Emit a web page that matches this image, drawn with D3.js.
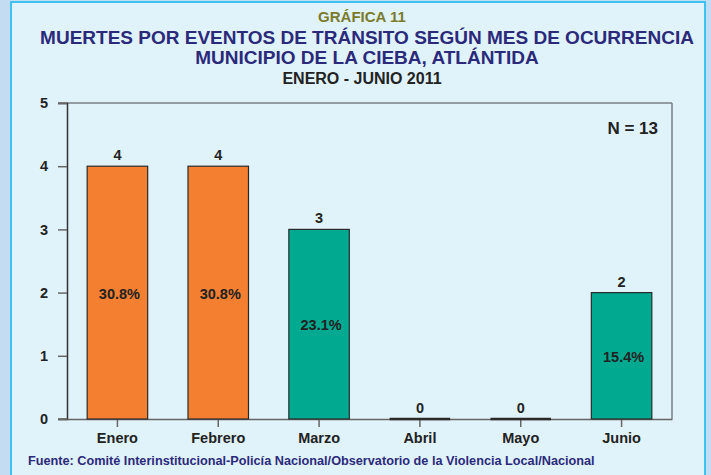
<!DOCTYPE html>
<html>
<head>
<meta charset="utf-8">
<script src="https://cdn.jsdelivr.net/npm/d3@7"></script>
<style>
  body { margin: 0; background: #c4dcf1; }
  svg { display: block; font-family: "Liberation Sans", Arial, sans-serif; }
</style>
</head>
<body>
<div id="container"></div>
<script>
var width = 711,
    height = 475,
    margin = { left: 67, top: 103, right: 39, bottom: 56 },
    g_width = width - margin.left - margin.right,
    g_height = height - margin.top - margin.bottom;

var months = ['Enero', 'Febrero', 'Marzo', 'Abril', 'Mayo', 'Junio'];
var deaths = [4, 4, 3, 0, 0, 2];
var percents = ['30.8%', '30.8%', '23.1%', '', '', '15.4%'];
var barColors = ['#f47f31', '#f47f31', '#00a990', '#00a990', '#00a990', '#00a990'];
var yTicks = [0, 1, 2, 3, 4, 5];

var svg = d3.select('#container')
    .append('svg')
    .attr('width', width)
    .attr('height', height);

// panel
svg.append('rect')
    .attr('x', 11).attr('y', 2)
    .attr('width', 694).attr('height', 480)
    .attr('fill', '#e0f2fa')
    .attr('stroke', '#3ec3f0')
    .attr('stroke-width', 2);

// titles
svg.append('text').attr('x', 362).attr('y', 22)
    .attr('text-anchor', 'middle').attr('font-size', 15).attr('font-weight', 'bold')
    .attr('fill', '#7b7b2c').text('GRÁFICA 11');
svg.append('text').attr('x', 367).attr('y', 44)
    .attr('text-anchor', 'middle').attr('font-size', 19).attr('font-weight', 'bold')
    .attr('fill', '#2b2a7a').text('MUERTES POR EVENTOS DE TRÁNSITO SEGÚN MES DE OCURRENCIA');
svg.append('text').attr('x', 367).attr('y', 64)
    .attr('text-anchor', 'middle').attr('font-size', 19).attr('font-weight', 'bold')
    .attr('fill', '#2b2a7a').text('MUNICIPIO DE LA CIEBA, ATLÁNTIDA');
svg.append('text').attr('x', 362).attr('y', 84)
    .attr('text-anchor', 'middle').attr('font-size', 16).attr('font-weight', 'bold')
    .attr('fill', '#222').text('ENERO - JUNIO 2011');

var g = svg.append('g')
    .attr('transform', 'translate(' + margin.left + ',' + margin.top + ')');

var scale_x = d3.scaleBand()
    .domain(months)
    .range([0, g_width])
    .paddingInner(0.4)
    .paddingOuter(0.2);
var scale_y = d3.scaleLinear()
    .domain([0, 5])
    .range([g_height, 0]);

// frame top / right
g.append('line').attr('x1', -9).attr('x2', g_width).attr('y1', 0).attr('y2', 0)
    .attr('stroke', '#7a7f84').attr('stroke-width', 1.5);
g.append('line').attr('x1', g_width).attr('x2', g_width).attr('y1', 0).attr('y2', g_height)
    .attr('stroke', '#7a7f84').attr('stroke-width', 1.5);

// y axis
var y_axis = d3.axisLeft(scale_y).tickValues(yTicks).tickFormat(d3.format('d'))
    .tickSize(9).tickPadding(10);
var yg = g.append('g').call(y_axis);
yg.select('.domain').attr('stroke', '#333').attr('stroke-width', 1.5);
yg.selectAll('.tick line').attr('stroke', '#666').attr('stroke-width', 1.5);
yg.selectAll('.tick text').attr('font-size', 14.5).attr('font-weight', 'bold')
    .attr('fill', '#222').attr('font-family', '"Liberation Sans", Arial, sans-serif');

// x axis
var x_axis = d3.axisBottom(scale_x).tickSize(8).tickPadding(6).tickSizeOuter(0);
var xg = g.append('g')
    .attr('transform', 'translate(0,' + g_height + ')')
    .call(x_axis);
xg.select('.domain').attr('stroke', '#666').attr('stroke-width', 1.5);
xg.selectAll('.tick line').attr('stroke', '#666').attr('stroke-width', 1.5);
xg.selectAll('.tick text').attr('font-size', 14.5).attr('font-weight', 'bold')
    .attr('fill', '#222').attr('font-family', '"Liberation Sans", Arial, sans-serif');
g.append('line').attr('x1', -9).attr('x2', 0).attr('y1', g_height).attr('y2', g_height)
    .attr('stroke', '#666').attr('stroke-width', 1.5);

// bars
g.selectAll('.bar')
    .data(deaths)
    .enter()
    .append('rect')
    .attr('class', 'bar')
    .attr('x', function (d, i) { return scale_x(months[i]); })
    .attr('y', function (d) { return scale_y(d); })
    .attr('width', scale_x.bandwidth())
    .attr('height', function (d) { return g_height - scale_y(d); })
    .attr('fill', function (d, i) { return barColors[i]; })
    .attr('stroke', '#2a2a2a')
    .attr('stroke-width', 1.2);

// zero-height bars drawn as a flat dark line
deaths.forEach(function (d, i) {
    if (d !== 0) return;
    g.append('line')
        .attr('x1', scale_x(months[i]))
        .attr('x2', scale_x(months[i]) + scale_x.bandwidth())
        .attr('y1', scale_y(d)).attr('y2', scale_y(d))
        .attr('stroke', '#2a2a2a').attr('stroke-width', 2.5);
});

// value labels
g.selectAll('.val')
    .data(deaths)
    .enter()
    .append('text')
    .attr('x', function (d, i) { return scale_x(months[i]) + scale_x.bandwidth() / 2; })
    .attr('y', function (d) { return scale_y(d) - 6; })
    .attr('text-anchor', 'middle')
    .attr('font-size', 14.5).attr('font-weight', 'bold').attr('fill', '#222')
    .text(function (d) { return d; });

// percent labels
g.selectAll('.pct')
    .data(deaths)
    .enter()
    .append('text')
    .attr('x', function (d, i) { return scale_x(months[i]) + scale_x.bandwidth() / 2 + 2; })
    .attr('y', function (d) { return (scale_y(d) + g_height) / 2 + 6; })
    .attr('text-anchor', 'middle')
    .attr('font-size', 14.5).attr('font-weight', 'bold').attr('fill', '#222')
    .text(function (d, i) { return percents[i]; });

// N
g.append('text').attr('x', g_width - 14).attr('y', 31)
    .attr('text-anchor', 'end').attr('font-size', 17).attr('font-weight', 'bold')
    .attr('fill', '#222').text('N = 13');

// source
svg.append('text').attr('x', 28).attr('y', 465)
    .attr('font-size', 12.7).attr('font-weight', 'bold').attr('fill', '#2b2a7a')
    .text('Fuente: Comité Interinstitucional-Policía Nacional/Observatorio de la Violencia Local/Nacional');
</script>
</body>
</html>
